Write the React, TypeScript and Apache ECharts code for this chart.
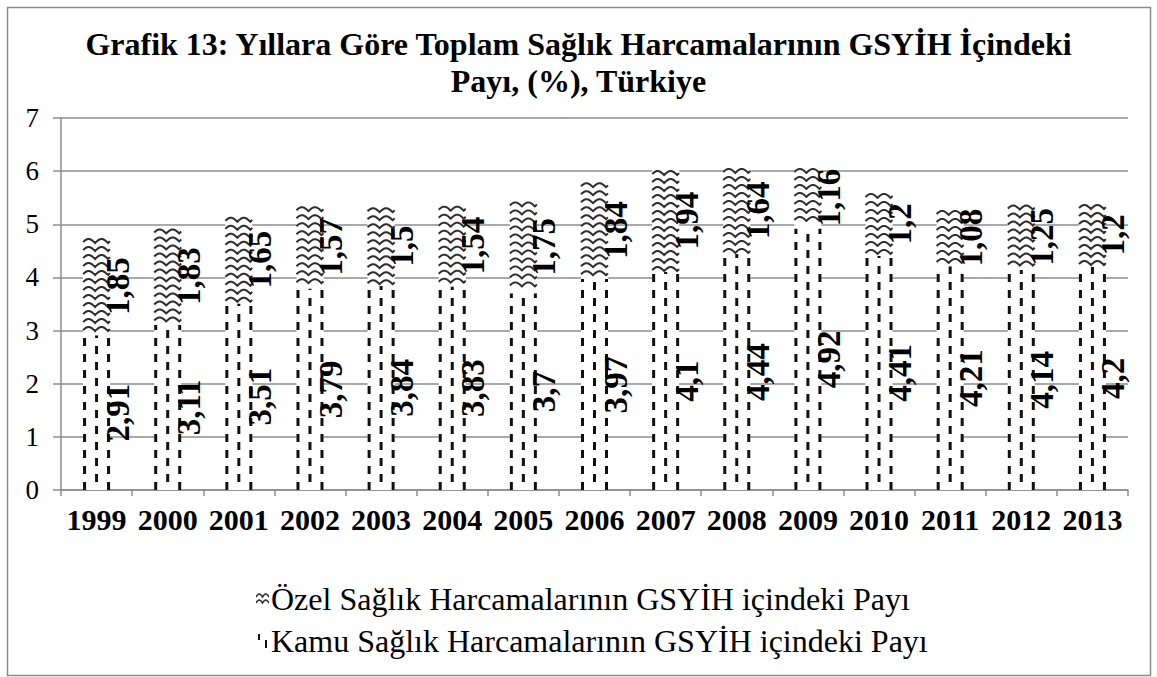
import React, { useEffect, useRef } from "react";
import * as echarts from "echarts";

const years = ["1999", "2000", "2001", "2002", "2003", "2004", "2005", "2006", "2007", "2008", "2009", "2010", "2011", "2012", "2013"];
const kamu = [2.91, 3.11, 3.51, 3.79, 3.84, 3.83, 3.7, 3.97, 4.1, 4.44, 4.92, 4.41, 4.21, 4.14, 4.2];
const ozel = [1.85, 1.83, 1.65, 1.57, 1.5, 1.54, 1.75, 1.84, 1.94, 1.64, 1.16, 1.2, 1.08, 1.25, 1.2];
const seriesNames = [
  "Özel Sağlık Harcamalarının GSYİH içindeki Payı",
  "Kamu Sağlık Harcamalarının GSYİH içindeki Payı",
];
const titleText = "Grafik 13: Yıllara Göre Toplam Sağlık Harcamalarının GSYİH İçindeki\nPayı, (%), Türkiye";

const FONT = "'Liberation Serif', serif";
const BAR_W = 27;
const LABEL_FONT = "bold 33px 'Liberation Serif', serif";

const fmtNum = (v: number) => String(v).replace(".", ",");

function iconKamu(): string {
  const c = document.createElement("canvas");
  c.width = 13;
  c.height = 14;
  const g = c.getContext("2d")!;
  g.fillStyle = "#fff";
  g.fillRect(0, 0, 13, 14);
  g.fillStyle = "#111";
  g.fillRect(2, 0, 2, 6);
  g.fillRect(9, 6, 2, 8);
  return c.toDataURL();
}

function iconOzel(): string {
  const c = document.createElement("canvas");
  c.width = 13;
  c.height = 14;
  const g = c.getContext("2d")!;
  g.fillStyle = "#fff";
  g.fillRect(0, 0, 13, 14);
  g.strokeStyle = "#333";
  g.lineWidth = 1.6;
  for (const base of [5, 11]) {
    g.beginPath();
    for (let x = 0; x <= 13; x += 0.5) {
      const y = base - 3 * Math.abs(Math.sin((Math.PI * x) / 6.5));
      if (x === 0) g.moveTo(x, y);
      else g.lineTo(x, y);
    }
    g.stroke();
  }
  return c.toDataURL();
}

function labelText(x: number, y: number, v: number) {
  return {
    type: "text",
    x,
    y,
    rotation: Math.PI / 2,
    style: {
      text: fmtNum(v),
      font: LABEL_FONT,
      fill: "#000",
      align: "center",
      verticalAlign: "middle",
    },
    z2: 10,
  };
}

export default function App() {
  const ref = useRef<HTMLDivElement>(null);
  useEffect(() => {
    if (!ref.current) return;
    const chart = echarts.init(ref.current, undefined, { renderer: "svg" });

    const renderKamu = (_params: any, api: any) => {
      const i = api.value(0);
      const v = api.value(1);
      const [cx, yb] = api.coord([i, 0]);
      const [, yt] = api.coord([i, v]);
      const left = cx - BAR_W / 2;
      const lines = [1.5, 13.5, 25.5].map((dx, k) => ({
        type: "line",
        shape: { x1: left + dx, y1: yb, x2: left + dx, y2: yt },
        style: { stroke: "#111", lineWidth: 3, lineDash: [8, 8], lineDashOffset: k === 1 ? 8 : 0 },
      }));
      return {
        type: "group",
        children: [
          { type: "rect", shape: { x: left, y: yt, width: BAR_W, height: yb - yt }, style: { fill: "#fff" } },
          ...lines,
          labelText(cx + 21, (yb + yt) / 2, v),
        ],
      };
    };

    const renderOzel = (_params: any, api: any) => {
      const i = api.value(0);
      const v = api.value(1);
      const base = api.value(2);
      const [cx, yb] = api.coord([i, base]);
      const [, yt] = api.coord([i, base + v]);
      const left = cx - BAR_W / 2;
      const rows: any[] = [];
      for (let ry = yt + 6; ry <= yb - 1; ry += 8) {
        const pts: number[][] = [];
        for (let dx = 0; dx <= BAR_W; dx += 1) {
          pts.push([left + dx, ry - 4 * Math.abs(Math.sin((Math.PI * (dx + 1)) / 13))]);
        }
        rows.push({
          type: "polyline",
          shape: { points: pts },
          style: { stroke: "#2e2e2e", lineWidth: 2, fill: "none" },
        });
      }
      return {
        type: "group",
        children: [
          { type: "rect", shape: { x: left, y: yt, width: BAR_W, height: yb - yt }, style: { fill: "#fff" } },
          ...rows,
          labelText(cx + 21, (yb + yt) / 2, v),
        ],
      };
    };

    chart.setOption({
      animation: false,
      backgroundColor: "#ffffff",
      title: {
        text: titleText,
        left: "center",
        top: 20,
        textStyle: {
          fontFamily: FONT,
          fontWeight: "bold",
          fontSize: 32,
          lineHeight: 37,
          color: "#000",
        },
      },
      graphic: [
        {
          type: "rect",
          shape: { x: 7.5, y: 7.5, width: 1143, height: 668 },
          style: { fill: "none", stroke: "#8c8c8c", lineWidth: 1.5 },
          silent: true,
        },
      ],
      legend: {
        orient: "vertical",
        left: 251,
        top: 578,
        itemGap: 10,
        itemWidth: 13,
        itemHeight: 14,
        data: [
          { name: seriesNames[0], icon: "image://" + iconOzel() },
          { name: seriesNames[1], icon: "image://" + iconKamu() },
        ],
        textStyle: { fontFamily: FONT, fontSize: 32, color: "#000", padding: [0, 0, 0, -3] },
      },
      grid: { left: 61, right: 29, top: 118, bottom: 187, containLabel: false },
      xAxis: {
        type: "category",
        data: years,
        axisLine: { lineStyle: { color: "#8c8c8c", width: 1.5 } },
        axisTick: { show: true, alignWithLabel: false, length: 6, lineStyle: { color: "#8c8c8c", width: 1.5 } },
        axisLabel: {
          fontFamily: FONT,
          fontWeight: "bold",
          fontSize: 30,
          color: "#000",
          margin: 14,
          interval: 0,
        },
      },
      yAxis: {
        type: "value",
        min: 0,
        max: 7,
        interval: 1,
        axisLine: { show: true, lineStyle: { color: "#8c8c8c", width: 1.5 } },
        axisTick: { show: true, length: 8, lineStyle: { color: "#8c8c8c", width: 1.5 } },
        splitLine: { lineStyle: { color: "#8c8c8c", width: 1.5 } },
        axisLabel: { fontFamily: FONT, fontSize: 27, color: "#000", margin: 22 },
      },
      series: [
        {
          name: seriesNames[1],
          type: "custom",
          renderItem: renderKamu,
          encode: { x: 0, y: 1 },
          data: kamu.map((v, i) => [i, v]),
          itemStyle: { color: "#111" },
          clip: false,
        },
        {
          name: seriesNames[0],
          type: "custom",
          renderItem: renderOzel,
          encode: { x: 0, y: 1 },
          data: ozel.map((v, i) => [i, v, kamu[i]]),
          itemStyle: { color: "#333" },
          clip: false,
        },
      ],
    });
    return () => chart.dispose();
  }, []);
  return (
    <div
      ref={ref}
      style={{ position: "fixed", left: 0, top: 0, width: 1157, height: 677, background: "#fff" }}
    />
  );
}
